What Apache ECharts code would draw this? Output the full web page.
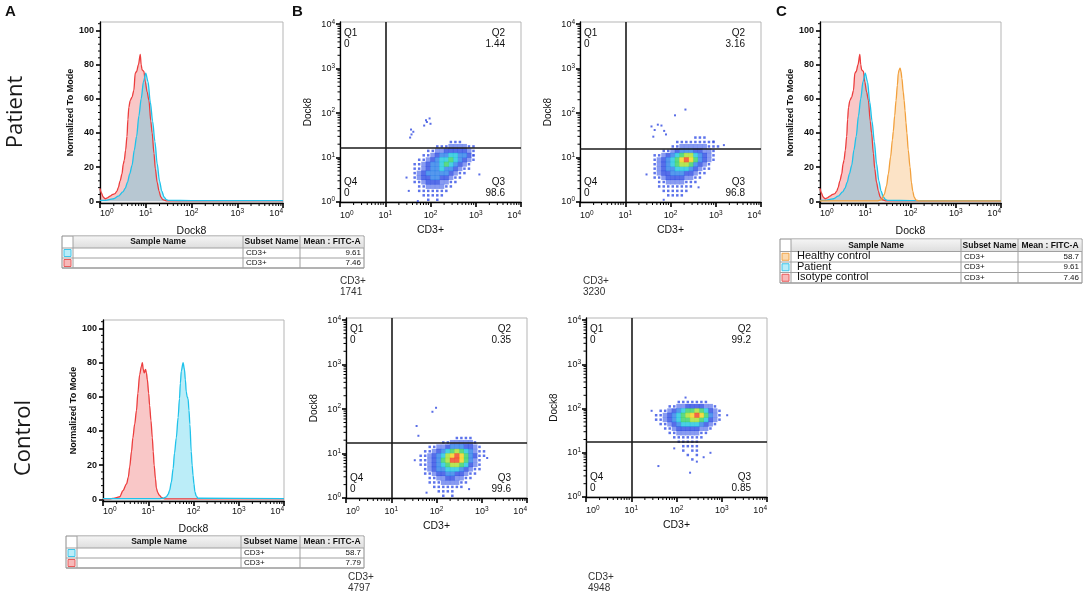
<!DOCTYPE html>
<html lang="en">
<head>
<meta charset="UTF-8">
<title>Dock8 expression in CD3+ cells</title>
<script src="https://cdn.jsdelivr.net/npm/echarts@6.0.0/dist/echarts.min.js"></script>
<style>
  html, body { margin: 0; padding: 0; background: #fff; }
  #chart { width: 1084px; height: 595px; }
</style>
</head>
<body>
<div id="chart"></div>
<script>
// ---- data ----
var decades = [0, 1, 2, 3, 4];
var modeTicks = [0, 20, 40, 60, 80, 100];

// histograms: [log10 Dock8, normalized to mode]
var patientIsotype = [[0,7.5],[0.03,5],[0.07,2.5],[0.11,1.5],[0.16,2],[0.22,3],[0.28,4],[0.33,4.5],[0.37,6],[0.40,8],[0.44,12],[0.48,16],[0.51,22],[0.53,24],[0.56,30],[0.59,38],[0.61,48],[0.63,55],[0.66,59],[0.70,61],[0.74,65],[0.77,75],[0.80,76],[0.84,80],[0.88,86],[0.90,80],[0.92,77],[0.96,76],[0.99,70],[1.03,64],[1.07,59],[1.11,47],[1.14,40],[1.18,28],[1.21,19],[1.25,11],[1.29,6],[1.33,2.5],[1.37,1],[1.45,0.3],[1.6,0.2],[4,0.2]];
var patientDock8 = [[0,0.5],[0.10,0.5],[0.20,1],[0.30,1.5],[0.40,3],[0.50,5.5],[0.55,7.5],[0.60,11],[0.65,16],[0.70,21],[0.75,30],[0.80,38],[0.85,50],[0.90,60],[0.95,70],[1.00,75],[1.05,70],[1.10,58],[1.15,47],[1.20,35],[1.25,22],[1.30,12],[1.35,6],[1.40,2.5],[1.45,1],[1.50,0.5],[2,0.4],[4,0.4]];
var controlIsotype = [[0,0.3],[0.15,0.3],[0.22,0.5],[0.30,1],[0.37,1.5],[0.44,5],[0.52,9],[0.56,13],[0.59,19],[0.63,28],[0.66,36],[0.70,44],[0.74,52],[0.77,62],[0.81,73],[0.85,78],[0.87,80],[0.89,76],[0.91,74],[0.94,76],[0.96,74],[0.98,70],[1.01,62],[1.03,55],[1.06,46],[1.09,36],[1.11,28],[1.13,20],[1.16,12],[1.18,6.5],[1.21,4],[1.24,2.5],[1.30,1],[1.36,0.3],[4,0.2]];
var controlDock8 = [[0,0.4],[1.25,0.4],[1.33,0.6],[1.40,1.4],[1.44,3],[1.47,5],[1.51,10],[1.55,18],[1.58,27],[1.62,36],[1.66,48],[1.69,59],[1.71,68],[1.73,75],[1.77,80],[1.80,76],[1.82,70],[1.84,63],[1.86,60],[1.88,59],[1.90,52],[1.92,44],[1.95,28],[1.97,20],[1.99,14],[2.01,9],[2.03,4.5],[2.06,2],[2.10,0.6],[4,0.4]];
var healthyDock8 = [[0,0.3],[1.28,0.3],[1.36,1],[1.42,4],[1.47,9],[1.51,16],[1.56,26],[1.60,36],[1.62,41],[1.65,50],[1.68,59],[1.71,68],[1.73,75],[1.75,77],[1.77,78],[1.79,76],[1.81,72],[1.84,64],[1.86,59],[1.88,53],[1.90,46],[1.92,40],[1.95,30],[1.99,20],[2.02,11],[2.05,6],[2.08,2.5],[2.12,0.8],[2.18,0.3],[4,0.3]];

// tables
var tableHeaders = ['Sample Name', 'Subset Name', 'Mean : FITC-A'];
var subsetName = 'CD3+';
var patientMeans = ['9.61', '7.46'];
var controlMeans = ['58.7', '7.79'];
var overlayNames = ['Healthy control', 'Patient', 'Isotype control'];
var overlayMeans = ['58.7', '9.61', '7.46'];

// dot plots: density level (0-9) per 0.1-decade bin, top row first,
// columns start at log10 CD3 = 1.4
var binStart = 1.4;
var b1Top = 1.3;
var b1Rows = [
  '000000000011100000',
  '000000011122221100',
  '000001122333332100',
  '000011234455443100',
  '000112345565432100',
  '001123445654321000',
  '001123445443211000',
  '001234444432110000',
  '001233443321100000',
  '001123332211000000',
  '000112222110000000',
  '000111111100000000',
  '000011111000000000',
  '000001010000000000'
];
var b2Top = 1.4;
var b2Rows = [
  '000000000001110000',
  '000000011111111100',
  '000000112222221110',
  '000011234443322100',
  '001123456775432100',
  '001234568986432100',
  '001234567764321000',
  '001234455543211000',
  '001233444332110000',
  '001123333221100000',
  '000112222111000000',
  '000111111110000000',
  '000011111100000000',
  '000001111000000000'
];
var b3Top = 1.3;
var b3Rows = [
  '000000000011110000',
  '000000011222221000',
  '000011223444332100',
  '000112345676542110',
  '001123457898643110',
  '001123467998642100',
  '001123456776532100',
  '000123445554321100',
  '000112334433211000',
  '000011223322110000',
  '000011122221100000',
  '000001111111000000',
  '000000111100000000',
  '000000010100000000'
];
var b4Top = 2.1;
var b4Rows = [
  '000000111111100000',
  '000011223333221000',
  '001123456676532100',
  '011234567898642100',
  '011234566776532100',
  '001123455554321000',
  '000112333332210000',
  '000011222221100000',
  '000001111111000000',
  '000000111110000000',
  '000000011110000000',
  '000000010110000000',
  '000000001010000000',
  '000000000100000000'
];
// isolated events [log10 CD3, log10 Dock8]
var b1Out = [[1.55,1.45],[1.58,1.52],[1.62,1.58],[1.57,1.63],[1.86,1.72],[1.92,1.80],[1.98,1.88],[1.90,1.84],[2.0,1.76],[1.47,0.55],[1.52,0.25],[3.08,0.62],[2.95,1.05],[1.72,0.02]];
var b2Out = [[1.58,1.70],[1.65,1.62],[1.72,1.74],[1.80,1.72],[1.86,1.60],[1.62,1.47],[1.90,1.52],[2.10,1.95],[2.33,2.08],[2.95,1.36],[3.18,1.28],[1.47,0.62],[2.62,0.33],[1.85,0.05]];
var b3Out = [[1.99,2.03],[1.91,1.94],[1.56,1.62],[1.60,1.40],[1.52,0.85],[3.12,0.9],[2.72,0.2],[1.78,0.12]];
var b4Out = [[1.60,0.70],[2.30,0.55],[2.45,0.80],[2.75,1.00],[1.95,1.10],[2.6,0.9],[1.45,1.95],[3.12,1.85],[2.2,2.25]];
var gates = [[1.0, 1.21], [1.0, 1.20], [1.0, 1.24], [1.0, 1.25]];
// Q1, Q2, Q3, Q4
var quadrants = [['0', '1.44', '98.6', '0'], ['0', '3.16', '96.8', '0'], ['0', '0.35', '99.6', '0'], ['0', '99.2', '0.85', '0']];
var eventCounts = ['1741', '3230', '4797', '4948'];

// ---- styling ----
var FONT = 'Liberation Sans';
var RED = '#ec3d3d', CYAN = '#1fc2ea', ORANGE = '#f2a03c';
var RED_FILL = 'rgba(236,66,66,0.42)', CYAN_FILL = 'rgba(40,198,232,0.45)', ORANGE_FILL = 'rgba(245,160,62,0.42)';
var densityColors = [null, '#3550e6', '#6a82ee', '#2c4ae2', '#2a7ee8', '#1cc4dc', '#34cf64', '#a6df2c', '#f2d01a', '#f0401c'];
var cellSizes = [0, 2.5, 5, 5, 5, 5, 5, 5, 5, 5];

var histBoxes = [
  {left: 100, top: 22, width: 183, height: 181},
  {left: 103, top: 320, width: 181, height: 181},
  {left: 820, top: 22, width: 181, height: 181}
];
var dotBoxes = [
  {left: 340, top: 22, width: 181, height: 180},
  {left: 580, top: 22, width: 181, height: 180},
  {left: 346, top: 318, width: 181, height: 180},
  {left: 586, top: 318, width: 181, height: 179}
];

var logMinor = [];
for (var d = 0; d < 4; d++) for (var k = 2; k < 10; k++) logMinor.push(d + Math.log10(k));
var modeMinor = [];
for (var m = 4; m < 105; m += 4) if (m % 20) modeMinor.push(m);

function decadeLabel(v) { return '{b|10}{s|' + v + '}'; }
var decadeRich = {
  b: {fontSize: 9, fontFamily: FONT, color: '#111', lineHeight: 12},
  s: {fontSize: 6.5, fontFamily: FONT, color: '#111', lineHeight: 8, verticalAlign: 'top'}
};

function xAxisFor(gi, name, margin) {
  return {
    gridIndex: gi, type: 'value', min: 0, max: 4,
    name: name, nameLocation: 'middle', nameGap: 23,
    nameTextStyle: {fontFamily: FONT, fontSize: 10.5, color: '#111'},
    axisLine: {show: true, onZero: false, lineStyle: {color: '#000', width: 1.3}},
    axisTick: {show: true, customValues: decades, length: 5, lineStyle: {color: '#000', width: 1.6}},
    axisLabel: {customValues: decades, formatter: decadeLabel, rich: decadeRich, margin: margin,
      alignMinLabel: 'left', alignMaxLabel: 'right'},
    splitLine: {show: false}
  };
}

function histYAxis(gi) {
  return {
    gridIndex: gi, type: 'value', min: -1, max: 105,
    name: 'Normalized To Mode', nameLocation: 'middle', nameGap: 25,
    nameTextStyle: {fontFamily: FONT, fontSize: 9, fontWeight: 'bold', color: '#111'},
    axisLine: {show: true, onZero: false, lineStyle: {color: '#000', width: 1.3}},
    axisTick: {show: true, customValues: modeTicks, length: 4, lineStyle: {color: '#000', width: 1.6}},
    axisLabel: {customValues: modeTicks, margin: 6, fontFamily: FONT, fontSize: 9, fontWeight: 'bold', color: '#111'},
    splitLine: {show: false}
  };
}

function dotYAxis(gi) {
  return {
    gridIndex: gi, type: 'value', min: 0, max: 4.05,
    name: 'Dock8', nameLocation: 'middle', nameGap: 27,
    nameTextStyle: {fontFamily: FONT, fontSize: 10, color: '#111'},
    axisLine: {show: true, onZero: false, lineStyle: {color: '#000', width: 1.3}},
    axisTick: {show: true, customValues: decades, length: 4, lineStyle: {color: '#000', width: 1.6}},
    axisLabel: {customValues: decades, formatter: decadeLabel, rich: decadeRich, margin: 5},
    splitLine: {show: false}
  };
}

function minorTicks(gi, xs, ys, x0, y0, yLen) {
  var data = xs.map(function (v) { return [v, 0]; }).concat(ys.map(function (v) { return [v, 1]; }));
  return {
    type: 'custom', xAxisIndex: gi, yAxisIndex: gi, silent: true, z: 4,
    encode: {x: -1, y: -1},
    data: data,
    renderItem: function (params, api) {
      var v = api.value(0), kind = api.value(1), p;
      if (kind === 0) {
        p = api.coord([v, y0]);
        return {type: 'line', shape: {x1: p[0], y1: p[1], x2: p[0], y2: p[1] + 3}, style: {stroke: '#000', lineWidth: 1}};
      }
      p = api.coord([x0, v]);
      return {type: 'line', shape: {x1: p[0] - yLen, y1: p[1], x2: p[0], y2: p[1]}, style: {stroke: '#000', lineWidth: 1}};
    }
  };
}

function histLine(gi, data, line, fill) {
  return {
    type: 'line', xAxisIndex: gi, yAxisIndex: gi, data: data,
    smooth: 0.3, smoothMonotone: 'x', showSymbol: false, silent: true,
    lineStyle: {color: line, width: 1.3},
    areaStyle: {color: fill, origin: 0}
  };
}

function densityData(top, rows) {
  var out = [];
  rows.forEach(function (row, r) {
    for (var c = 0; c < row.length; c++) {
      var lvl = +row[c];
      if (lvl > 0) out.push([binStart + 0.1 * c + 0.05, top - 0.1 * r + 0.05, lvl]);
    }
  });
  // draw sparse bins first, dense bins on top
  return out.sort(function (a, b) { return a[2] - b[2]; });
}

function densitySeries(gi, top, rows, gate) {
  return {
    type: 'scatter', xAxisIndex: gi, yAxisIndex: gi, silent: true,
    data: densityData(top, rows), symbol: 'rect',
    symbolSize: function (val) { return cellSizes[val[2]]; },
    itemStyle: {color: function (p) { return densityColors[p.value[2]]; }},
    markLine: {
      silent: true, symbol: 'none', animation: false, label: {show: false},
      lineStyle: {color: '#1a1a1a', width: 1.6, type: 'solid'},
      data: [{xAxis: gate[0]}, {yAxis: gate[1]}]
    }
  };
}

function outlierSeries(gi, pts) {
  return {
    type: 'scatter', xAxisIndex: gi, yAxisIndex: gi, silent: true,
    data: pts, symbol: 'rect', symbolSize: 2, itemStyle: {color: '#3048e0'}
  };
}

// ---- graphic helpers ----
function text(x, y, str, opt) {
  opt = opt || {};
  return {
    type: 'text', x: x, y: y, rotation: opt.rotation || 0, z: 100,
    style: {
      text: str, fill: opt.color || '#111',
      font: (opt.weight || 'normal') + ' ' + (opt.size || 10) + 'px "' + (opt.family || FONT) + '"',
      align: opt.align || 'left', textAlign: opt.align || 'left',
      verticalAlign: 'middle', textVerticalAlign: 'middle'
    }
  };
}

function line(x1, y1, x2, y2, color) {
  return {type: 'line', z: 100, shape: {x1: x1, y1: y1, x2: x2, y2: y2}, style: {stroke: color || '#a0a0a0', lineWidth: 1}};
}

function table(cols, top, headH, rowH, rows, nameSize) {
  var els = [];
  var bottom = top + headH + rowH * rows.length;
  els.push({type: 'rect', z: 99, shape: {x: cols[0], y: top, width: cols[4] - cols[0], height: bottom - top}, style: {fill: '#fff', stroke: '#8c8c8c', lineWidth: 1}});
  els.push({type: 'rect', z: 99, shape: {x: cols[1], y: top + 0.5, width: cols[4] - cols[1] - 0.5, height: headH - 0.5},
    style: {fill: new echarts.graphic.LinearGradient(0, 0, 0, 1, [{offset: 0, color: '#f4f4f4'}, {offset: 1, color: '#dedede'}])}});
  for (var i = 1; i < 4; i++) els.push(line(cols[i], top, cols[i], bottom));
  for (var r = 0; r <= rows.length; r++) els.push(line(cols[0], top + headH + rowH * r, cols[4], top + headH + rowH * r));
  for (var h = 0; h < 3; h++) {
    els.push(text((cols[h + 1] + cols[h + 2]) / 2, top + headH / 2, tableHeaders[h], {align: 'center', size: 8.5, weight: 'bold'}));
  }
  rows.forEach(function (row, r) {
    var cy = top + headH + rowH * r + rowH / 2;
    var cx = (cols[0] + cols[1]) / 2;
    els.push({type: 'rect', z: 101, shape: {x: cx - 3.5, y: cy - 3.5, width: 7, height: 7}, style: {fill: row.fill, stroke: row.line, lineWidth: 1}});
    if (row.name) els.push(text(cols[1] + 6, cy - 0.5, row.name, {size: nameSize}));
    els.push(text(cols[2] + 3, cy, subsetName, {size: 8}));
    els.push(text(cols[4] - 3, cy, row.mean, {size: 8, align: 'right'}));
  });
  return els;
}

var swCyan = {line: '#3fc6ea', fill: '#b9edf9'};
var swRed = {line: '#e85a5a', fill: '#f7b9b9'};
var swOrange = {line: '#f0a448', fill: '#fbd9ae'};

var graphics = [];
graphics.push(text(5, 12, 'A', {size: 15, weight: 'bold', family: 'Liberation Sans'}));
graphics.push(text(292, 12, 'B', {size: 15, weight: 'bold', family: 'Liberation Sans'}));
graphics.push(text(776, 12, 'C', {size: 15, weight: 'bold', family: 'Liberation Sans'}));
graphics.push(text(16, 112, 'Patient', {size: 22, rotation: Math.PI / 2, align: 'center', family: 'Open Sans', color: '#1a1a1a'}));
graphics.push(text(24, 438, 'Control', {size: 22, rotation: Math.PI / 2, align: 'center', family: 'Open Sans', color: '#1a1a1a'}));

graphics = graphics.concat(table([62, 73, 243, 300, 364], 236, 12, 10, [
  {line: swCyan.line, fill: swCyan.fill, mean: patientMeans[0]},
  {line: swRed.line, fill: swRed.fill, mean: patientMeans[1]}
], 9));
graphics = graphics.concat(table([66, 77, 241, 300, 364], 536, 12, 10, [
  {line: swCyan.line, fill: swCyan.fill, mean: controlMeans[0]},
  {line: swRed.line, fill: swRed.fill, mean: controlMeans[1]}
], 9));
graphics = graphics.concat(table([780, 791, 961, 1018, 1082], 239, 12.5, 10.5, [
  {line: swOrange.line, fill: swOrange.fill, name: overlayNames[0], mean: overlayMeans[0]},
  {line: swCyan.line, fill: swCyan.fill, name: overlayNames[1], mean: overlayMeans[1]},
  {line: swRed.line, fill: swRed.fill, name: overlayNames[2], mean: overlayMeans[2]}
], 11));

// quadrant labels and event counts
var countPos = [[340, 281], [583, 281], [348, 577], [588, 577]];
dotBoxes.forEach(function (b, i) {
  var right = b.left + b.width, bottom = b.top + b.height, q = quadrants[i];
  graphics.push(text(b.left + 4, b.top + 11, 'Q1', {size: 10}));
  graphics.push(text(b.left + 4, b.top + 22, q[0], {size: 10}));
  graphics.push(text(right - 16, b.top + 11, 'Q2', {size: 10, align: 'right'}));
  graphics.push(text(right - 16, b.top + 22, q[1], {size: 10, align: 'right'}));
  graphics.push(text(right - 16, bottom - 20, 'Q3', {size: 10, align: 'right'}));
  graphics.push(text(right - 16, bottom - 9, q[2], {size: 10, align: 'right'}));
  graphics.push(text(b.left + 4, bottom - 20, 'Q4', {size: 10}));
  graphics.push(text(b.left + 4, bottom - 9, q[3], {size: 10}));
  graphics.push(text(countPos[i][0], countPos[i][1], 'CD3+', {size: 10, color: '#333'}));
  graphics.push(text(countPos[i][0], countPos[i][1] + 11, eventCounts[i], {size: 10, color: '#333'}));
});

// ---- chart ----
var chart = echarts.init(document.getElementById('chart'));

var grids = histBoxes.concat(dotBoxes).map(function (b) {
  return {left: b.left, top: b.top, width: b.width, height: b.height, show: true, borderColor: '#b5b5b5', borderWidth: 1, backgroundColor: '#fff'};
});

var xAxes = [
  xAxisFor(0, 'Dock8', 5), xAxisFor(1, 'Dock8', 5), xAxisFor(2, 'Dock8', 5),
  xAxisFor(3, 'CD3+', 8), xAxisFor(4, 'CD3+', 8), xAxisFor(5, 'CD3+', 8), xAxisFor(6, 'CD3+', 8)
];
var yAxes = [histYAxis(0), histYAxis(1), histYAxis(2), dotYAxis(3), dotYAxis(4), dotYAxis(5), dotYAxis(6)];

var series = [
  histLine(0, patientIsotype, RED, RED_FILL),
  histLine(0, patientDock8, CYAN, CYAN_FILL),
  histLine(1, controlIsotype, RED, RED_FILL),
  histLine(1, controlDock8, CYAN, CYAN_FILL),
  histLine(2, patientIsotype, RED, RED_FILL),
  histLine(2, patientDock8, CYAN, CYAN_FILL),
  histLine(2, healthyDock8, ORANGE, ORANGE_FILL),
  densitySeries(3, b1Top, b1Rows, gates[0]), outlierSeries(3, b1Out),
  densitySeries(4, b2Top, b2Rows, gates[1]), outlierSeries(4, b2Out),
  densitySeries(5, b3Top, b3Rows, gates[2]), outlierSeries(5, b3Out),
  densitySeries(6, b4Top, b4Rows, gates[3]), outlierSeries(6, b4Out)
];
for (var g = 0; g < 3; g++) series.push(minorTicks(g, logMinor, modeMinor, 0, -1, 2));
for (var g2 = 3; g2 < 7; g2++) series.push(minorTicks(g2, logMinor, logMinor, 0, 0, 2.5));

chart.setOption({
  animation: false,
  backgroundColor: '#fff',
  textStyle: {fontFamily: FONT},
  grid: grids,
  xAxis: xAxes,
  yAxis: yAxes,
  series: series,
  graphic: {elements: graphics}
});

window.addEventListener('resize', function () { chart.resize(); });
</script>
</body>
</html>
